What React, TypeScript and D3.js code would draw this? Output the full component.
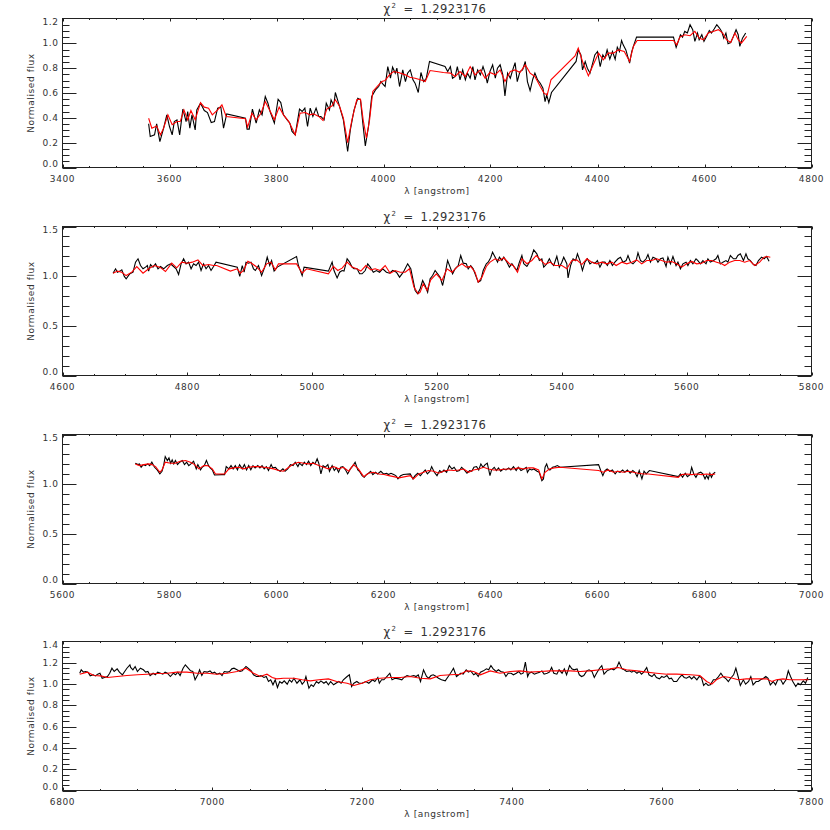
import React, { useEffect, useRef } from 'react';
import * as d3 from 'd3';

type Pt = [number, number];

// ---- chart values
const chiSquared = '1.2923176';
const xLabel = 'λ [angstrom]';
const yLabel = 'Normalised flux';

const xRanges: [number, number][] = [[3400, 4800], [4600, 5800], [5600, 7000], [6800, 7800]];
const yTops = [1.2, 1.5, 1.5, 1.4];
const yMajorSteps = [0.2, 0.5, 0.5, 0.2];
const yMinorSteps = [0.05, 0.1, 0.1, 0.05];
const xMajorStep = 200;
const xMinorStep = 50;

// observed spectrum (black), [wavelength, flux]
const obs1: Pt[] = [
  [3561, 0.352], [3564, 0.250], [3572, 0.263], [3576, 0.352], [3582, 0.209], [3589, 0.317], [3595, 0.424], [3600, 0.330],
  [3605, 0.263], [3609, 0.370], [3614, 0.384], [3619, 0.263], [3625, 0.470], [3631, 0.370], [3634, 0.451], [3638, 0.317],
  [3642, 0.424], [3648, 0.303], [3651, 0.464], [3658, 0.518], [3665, 0.459], [3671, 0.443], [3678, 0.362], [3684, 0.370],
  [3690, 0.478], [3696, 0.486], [3701, 0.317], [3707, 0.432], [3742, 0.397], [3745, 0.309], [3749, 0.309], [3755, 0.470],
  [3762, 0.357], [3768, 0.464], [3773, 0.424], [3779, 0.572], [3784, 0.518], [3788, 0.451], [3796, 0.357], [3803, 0.550],
  [3808, 0.523], [3813, 0.424], [3820, 0.384], [3825, 0.357], [3829, 0.290], [3835, 0.263], [3843, 0.470], [3848, 0.451],
  [3853, 0.478], [3858, 0.330], [3863, 0.478], [3868, 0.411], [3874, 0.478], [3879, 0.411], [3883, 0.411], [3889, 0.384],
  [3893, 0.518], [3899, 0.464], [3902, 0.545], [3907, 0.497], [3910, 0.604], [3916, 0.518], [3925, 0.384], [3933, 0.129],
  [3938, 0.303], [3945, 0.464], [3952, 0.558], [3957, 0.545], [3961, 0.370], [3966, 0.174], [3972, 0.330], [3978, 0.572],
  [3985, 0.625], [3991, 0.652], [3995, 0.692], [3999, 0.671], [4003, 0.652], [4008, 0.813], [4013, 0.719], [4017, 0.808],
  [4022, 0.760], [4025, 0.800], [4030, 0.652], [4036, 0.786], [4041, 0.692], [4045, 0.760], [4050, 0.786], [4055, 0.706],
  [4059, 0.679], [4065, 0.604], [4070, 0.765], [4075, 0.692], [4080, 0.719], [4086, 0.854], [4115, 0.813], [4120, 0.773],
  [4125, 0.813], [4129, 0.719], [4134, 0.733], [4138, 0.813], [4143, 0.706], [4148, 0.786], [4153, 0.706], [4157, 0.760],
  [4162, 0.719], [4167, 0.813], [4171, 0.706], [4176, 0.786], [4181, 0.746], [4186, 0.813], [4190, 0.760], [4194, 0.679],
  [4199, 0.773], [4204, 0.827], [4209, 0.719], [4213, 0.800], [4218, 0.827], [4223, 0.746], [4227, 0.577], [4232, 0.760],
  [4237, 0.719], [4242, 0.792], [4246, 0.845], [4250, 0.692], [4255, 0.773], [4260, 0.786], [4265, 0.854], [4269, 0.692],
  [4274, 0.620], [4279, 0.711], [4283, 0.760], [4288, 0.706], [4293, 0.679], [4298, 0.639], [4302, 0.531], [4305, 0.585],
  [4309, 0.523], [4314, 0.604], [4360, 0.854], [4364, 0.947], [4369, 0.907], [4372, 0.786], [4377, 0.854], [4381, 0.800],
  [4386, 0.760], [4391, 0.840], [4395, 0.907], [4400, 0.934], [4405, 0.813], [4410, 0.907], [4414, 0.880], [4418, 0.947],
  [4423, 0.872], [4428, 0.934], [4433, 0.872], [4437, 0.969], [4441, 0.934], [4445, 1.023], [4448, 0.988], [4453, 0.947],
  [4460, 0.840], [4464, 0.934], [4468, 0.988], [4473, 1.050], [4542, 1.050], [4547, 0.968], [4551, 1.016], [4555, 1.069],
  [4559, 1.050], [4563, 1.096], [4568, 1.083], [4573, 1.150], [4578, 1.110], [4582, 1.016], [4587, 1.083], [4590, 1.029],
  [4595, 1.069], [4599, 1.016], [4604, 1.056], [4609, 1.104], [4613, 1.083], [4618, 1.115], [4623, 1.150], [4628, 1.123],
  [4632, 1.096], [4636, 1.042], [4640, 1.083], [4644, 0.997], [4649, 1.007], [4654, 1.056], [4659, 1.110], [4663, 1.069],
  [4666, 0.975], [4671, 1.042], [4677, 1.083],
];

// model fit (red)
const fit1: Pt[] = [
  [3561, 0.397], [3567, 0.317], [3576, 0.335], [3583, 0.263], [3589, 0.317], [3597, 0.424], [3605, 0.344], [3614, 0.370],
  [3620, 0.370], [3627, 0.464], [3634, 0.384], [3640, 0.459], [3648, 0.384], [3658, 0.523], [3665, 0.486], [3673, 0.478],
  [3680, 0.424], [3690, 0.464], [3698, 0.505], [3706, 0.411], [3742, 0.392], [3746, 0.325], [3754, 0.437], [3762, 0.384],
  [3771, 0.437], [3779, 0.531], [3787, 0.464], [3796, 0.384], [3805, 0.486], [3813, 0.424], [3823, 0.370], [3835, 0.263],
  [3844, 0.437], [3854, 0.443], [3862, 0.424], [3869, 0.432], [3879, 0.411], [3887, 0.378], [3894, 0.470], [3904, 0.497],
  [3910, 0.545], [3918, 0.491], [3925, 0.397], [3933, 0.201], [3941, 0.384], [3950, 0.545], [3957, 0.550], [3962, 0.384],
  [3968, 0.236], [3974, 0.384], [3980, 0.612], [3988, 0.652], [3997, 0.692], [4003, 0.701], [4011, 0.746], [4019, 0.773],
  [4028, 0.765], [4041, 0.746], [4049, 0.727], [4059, 0.719], [4069, 0.706], [4078, 0.692], [4087, 0.781], [4112, 0.765],
  [4125, 0.760], [4134, 0.733], [4143, 0.773], [4153, 0.733], [4162, 0.813], [4171, 0.746], [4181, 0.786], [4190, 0.719],
  [4199, 0.765], [4209, 0.746], [4218, 0.786], [4227, 0.692], [4237, 0.773], [4246, 0.786], [4255, 0.765], [4265, 0.827],
  [4274, 0.760], [4283, 0.733], [4293, 0.652], [4300, 0.599], [4306, 0.585], [4313, 0.706], [4358, 0.899], [4364, 0.961],
  [4372, 0.854], [4383, 0.738], [4392, 0.827], [4402, 0.921], [4411, 0.867], [4420, 0.921], [4430, 0.921], [4439, 0.947],
  [4450, 0.934], [4460, 0.854], [4467, 0.974], [4474, 1.023], [4542, 1.023], [4548, 0.988], [4554, 1.050], [4563, 1.069],
  [4573, 1.061], [4582, 1.096], [4590, 1.042], [4598, 1.029], [4607, 1.083], [4616, 1.096], [4626, 1.110], [4634, 1.083],
  [4641, 1.029], [4649, 1.007], [4657, 1.083], [4663, 1.029], [4669, 1.002], [4679, 1.056],
];

const obs2: Pt[] = [
  [4681, 1.030], [4685, 1.074], [4688, 1.040], [4692, 1.051], [4695, 1.064], [4699, 0.997], [4702, 0.974], [4708, 1.024],
  [4713, 1.040], [4717, 1.141], [4721, 1.175], [4725, 1.107], [4729, 1.074], [4733, 1.091], [4736, 1.107], [4738, 1.051],
  [4741, 1.117], [4745, 1.091], [4749, 1.124], [4753, 1.074], [4757, 1.097], [4762, 1.074], [4768, 1.107], [4773, 1.124],
  [4778, 1.097], [4782, 1.074], [4786, 1.017], [4790, 1.124], [4794, 1.175], [4798, 1.124], [4802, 1.141], [4806, 1.074],
  [4810, 1.124], [4814, 1.107], [4818, 1.141], [4822, 1.057], [4826, 1.124], [4830, 1.074], [4834, 1.107], [4838, 1.057],
  [4842, 1.097], [4846, 1.141], [4880, 1.091], [4884, 0.997], [4888, 1.107], [4891, 1.040], [4894, 1.141], [4898, 1.130],
  [4902, 1.141], [4906, 1.074], [4909, 1.057], [4914, 1.107], [4919, 1.006], [4924, 1.091], [4928, 1.191], [4932, 1.107],
  [4935, 1.157], [4939, 1.051], [4944, 1.091], [4975, 1.198], [4978, 1.107], [4984, 1.006], [4987, 1.091], [5026, 1.051],
  [5032, 1.141], [5035, 1.057], [5040, 0.983], [5044, 1.040], [5048, 1.057], [5051, 1.051], [5056, 1.175], [5060, 1.141],
  [5064, 1.091], [5067, 1.074], [5072, 1.074], [5076, 1.024], [5080, 1.024], [5085, 1.057], [5089, 1.124], [5093, 1.091],
  [5098, 1.040], [5103, 1.057], [5108, 1.040], [5113, 1.074], [5119, 1.040], [5124, 1.030], [5129, 1.057], [5135, 1.040],
  [5140, 0.990], [5146, 1.040], [5153, 1.124], [5158, 1.074], [5165, 0.856], [5169, 0.823], [5173, 0.873], [5177, 0.956],
  [5181, 0.906], [5185, 0.839], [5189, 0.974], [5193, 1.007], [5197, 1.057], [5201, 1.024], [5205, 0.990], [5209, 0.906],
  [5213, 1.024], [5217, 1.158], [5221, 1.091], [5225, 1.024], [5229, 1.074], [5234, 1.107], [5238, 1.208], [5242, 1.131],
  [5247, 1.125], [5250, 1.074], [5254, 1.107], [5258, 1.074], [5263, 0.990], [5266, 0.940], [5270, 0.956], [5274, 1.057],
  [5279, 1.125], [5282, 1.141], [5286, 1.185], [5289, 1.242], [5293, 1.192], [5297, 1.141], [5300, 1.192], [5304, 1.158],
  [5307, 1.192], [5312, 1.141], [5316, 1.091], [5320, 1.125], [5323, 1.098], [5328, 1.057], [5332, 1.141], [5336, 1.208],
  [5339, 1.125], [5344, 1.098], [5348, 1.141], [5352, 1.208], [5355, 1.265], [5360, 1.225], [5364, 1.158], [5368, 1.175],
  [5371, 1.091], [5376, 1.125], [5380, 1.175], [5384, 1.125], [5387, 1.107], [5392, 1.200], [5396, 1.091], [5400, 1.141],
  [5403, 1.191], [5408, 1.125], [5410, 0.983], [5414, 1.107], [5418, 1.175], [5422, 1.157], [5425, 1.225], [5429, 1.157],
  [5433, 1.057], [5437, 1.141], [5441, 1.175], [5445, 1.124], [5449, 1.141], [5453, 1.130], [5457, 1.157], [5461, 1.091],
  [5465, 1.141], [5469, 1.141], [5473, 1.107], [5477, 1.157], [5481, 1.107], [5485, 1.141], [5490, 1.175], [5494, 1.191],
  [5498, 1.141], [5503, 1.157], [5506, 1.208], [5510, 1.141], [5514, 1.124], [5519, 1.157], [5522, 1.235], [5526, 1.157],
  [5530, 1.141], [5535, 1.175], [5538, 1.218], [5542, 1.141], [5546, 1.191], [5551, 1.175], [5554, 1.141], [5558, 1.175],
  [5562, 1.184], [5567, 1.098], [5570, 1.191], [5574, 1.124], [5578, 1.198], [5583, 1.107], [5586, 1.141], [5590, 1.074],
  [5594, 1.124], [5599, 1.141], [5602, 1.107], [5606, 1.157], [5610, 1.124], [5615, 1.175], [5618, 1.157], [5622, 1.124],
  [5626, 1.157], [5631, 1.124], [5634, 1.175], [5638, 1.141], [5643, 1.157], [5647, 1.175], [5650, 1.208], [5654, 1.124],
  [5658, 1.141], [5663, 1.157], [5666, 1.141], [5670, 1.208], [5675, 1.175], [5679, 1.175], [5682, 1.208], [5686, 1.225],
  [5691, 1.157], [5695, 1.225], [5698, 1.175], [5702, 1.157], [5707, 1.117], [5711, 1.107], [5715, 1.157], [5720, 1.191],
  [5724, 1.175], [5728, 1.198], [5732, 1.151],
];

const fit2: Pt[] = [
  [4681, 1.030], [4688, 1.051], [4695, 1.040], [4702, 1.006], [4711, 1.040], [4719, 1.097], [4729, 1.030], [4738, 1.074],
  [4747, 1.107], [4756, 1.091], [4765, 1.047], [4775, 1.131], [4783, 1.084], [4791, 1.141], [4800, 1.130], [4808, 1.141],
  [4817, 1.164], [4825, 1.107], [4834, 1.117], [4842, 1.107], [4847, 1.107], [4869, 1.051], [4880, 1.074], [4885, 1.030],
  [4890, 1.057], [4897, 1.151], [4903, 1.130], [4910, 1.098], [4919, 1.040], [4927, 1.124], [4934, 1.141], [4941, 1.064],
  [4946, 1.124], [4975, 1.124], [4984, 1.030], [4991, 1.074], [5026, 1.024], [5034, 1.098], [5041, 1.057], [5048, 1.081],
  [5056, 1.141], [5064, 1.091], [5071, 1.074], [5078, 1.051], [5086, 1.107], [5094, 1.064], [5101, 1.074], [5109, 1.057],
  [5117, 1.107], [5125, 1.030], [5133, 1.057], [5141, 1.040], [5149, 1.040], [5156, 1.074], [5163, 0.890], [5170, 0.823],
  [5173, 0.839], [5178, 0.923], [5184, 0.856], [5190, 0.963], [5199, 1.024], [5208, 0.956], [5216, 1.074], [5224, 1.040],
  [5232, 1.091], [5240, 1.125], [5247, 1.091], [5254, 1.098], [5261, 1.040], [5266, 0.940], [5272, 0.990], [5279, 1.098],
  [5285, 1.141], [5293, 1.175], [5300, 1.158], [5307, 1.185], [5316, 1.125], [5322, 1.107], [5329, 1.040], [5336, 1.175],
  [5344, 1.125], [5352, 1.158], [5359, 1.208], [5366, 1.165], [5373, 1.118], [5381, 1.141], [5389, 1.107], [5400, 1.107],
  [5408, 1.074], [5416, 1.157], [5424, 1.164], [5432, 1.117], [5440, 1.175], [5448, 1.141], [5456, 1.124], [5464, 1.141],
  [5472, 1.124], [5480, 1.141], [5487, 1.107], [5496, 1.141], [5504, 1.124], [5512, 1.141], [5520, 1.164], [5528, 1.124],
  [5536, 1.157], [5544, 1.157], [5552, 1.175], [5560, 1.157], [5568, 1.141], [5576, 1.148], [5584, 1.124], [5592, 1.091],
  [5600, 1.124], [5608, 1.148], [5616, 1.124], [5624, 1.130], [5632, 1.157], [5640, 1.157], [5648, 1.141], [5656, 1.124],
  [5661, 1.107], [5669, 1.141], [5677, 1.157], [5685, 1.157], [5693, 1.141], [5701, 1.157], [5709, 1.107], [5717, 1.141],
  [5724, 1.191], [5729, 1.198], [5734, 1.191],
];

const obs3: Pt[] = [
  [5736, 1.211], [5741, 1.197], [5744, 1.204], [5747, 1.170], [5751, 1.197], [5755, 1.187], [5759, 1.204], [5763, 1.187],
  [5767, 1.221], [5772, 1.170], [5777, 1.144], [5782, 1.103], [5786, 1.130], [5789, 1.187], [5792, 1.278], [5796, 1.238],
  [5799, 1.265], [5802, 1.211], [5805, 1.244], [5808, 1.204], [5811, 1.238], [5815, 1.197], [5819, 1.221], [5824, 1.238],
  [5828, 1.197], [5832, 1.221], [5836, 1.187], [5840, 1.204], [5845, 1.231], [5850, 1.154], [5853, 1.197], [5858, 1.144],
  [5861, 1.170], [5865, 1.187], [5869, 1.238], [5873, 1.187], [5876, 1.164], [5880, 1.144], [5884, 1.093], [5898, 1.096],
  [5903, 1.096], [5906, 1.177], [5911, 1.154], [5915, 1.187], [5919, 1.154], [5923, 1.187], [5927, 1.144], [5931, 1.197],
  [5936, 1.154], [5940, 1.197], [5944, 1.144], [5948, 1.187], [5952, 1.144], [5956, 1.187], [5960, 1.164], [5965, 1.187],
  [5969, 1.164], [5973, 1.187], [5977, 1.154], [5981, 1.177], [5985, 1.137], [5990, 1.197], [5993, 1.164], [5998, 1.170],
  [6002, 1.144], [6007, 1.130], [6012, 1.154], [6016, 1.130], [6021, 1.154], [6026, 1.197], [6031, 1.187], [6035, 1.221],
  [6040, 1.177], [6043, 1.211], [6048, 1.187], [6052, 1.221], [6056, 1.197], [6060, 1.231], [6064, 1.187], [6068, 1.221],
  [6072, 1.204], [6076, 1.255], [6079, 1.211], [6083, 1.103], [6087, 1.187], [6091, 1.170], [6096, 1.197], [6099, 1.130],
  [6104, 1.187], [6108, 1.137], [6112, 1.164], [6116, 1.120], [6120, 1.170], [6124, 1.177], [6129, 1.144], [6133, 1.103],
  [6138, 1.154], [6143, 1.187], [6147, 1.221], [6152, 1.144], [6155, 1.130], [6160, 1.086], [6164, 1.069], [6168, 1.096],
  [6172, 1.110], [6176, 1.130], [6180, 1.096], [6185, 1.120], [6189, 1.103], [6195, 1.130], [6200, 1.103], [6206, 1.110],
  [6209, 1.097], [6214, 1.110], [6219, 1.097], [6223, 1.086], [6227, 1.053], [6232, 1.086], [6237, 1.097], [6250, 1.103],
  [6255, 1.053], [6259, 1.086], [6264, 1.110], [6269, 1.086], [6274, 1.120], [6278, 1.143], [6282, 1.103], [6287, 1.130],
  [6290, 1.177], [6295, 1.120], [6300, 1.086], [6305, 1.137], [6309, 1.120], [6313, 1.143], [6318, 1.120], [6323, 1.187],
  [6328, 1.153], [6332, 1.170], [6337, 1.130], [6342, 1.137], [6346, 1.170], [6351, 1.143], [6356, 1.110], [6361, 1.137],
  [6365, 1.130], [6369, 1.170], [6374, 1.177], [6378, 1.143], [6382, 1.204], [6386, 1.170], [6390, 1.197], [6394, 1.211],
  [6399, 1.086], [6402, 1.143], [6407, 1.170], [6411, 1.137], [6415, 1.164], [6419, 1.130], [6424, 1.153], [6429, 1.143],
  [6434, 1.164], [6438, 1.143], [6443, 1.177], [6448, 1.137], [6452, 1.170], [6457, 1.137], [6462, 1.153], [6467, 1.170],
  [6469, 1.120], [6473, 1.153], [6477, 1.143], [6481, 1.153], [6487, 1.130], [6491, 1.120], [6496, 1.036], [6499, 1.053],
  [6502, 1.170], [6505, 1.204], [6508, 1.153], [6511, 1.143], [6516, 1.170], [6521, 1.177], [6525, 1.187], [6530, 1.170],
  [6602, 1.197], [6606, 1.137], [6610, 1.086], [6614, 1.137], [6618, 1.153], [6623, 1.130], [6628, 1.143], [6633, 1.103],
  [6637, 1.130], [6642, 1.120], [6647, 1.143], [6651, 1.120], [6656, 1.143], [6661, 1.110], [6666, 1.137], [6670, 1.120],
  [6674, 1.076], [6678, 1.137], [6683, 1.053], [6687, 1.130], [6691, 1.103], [6697, 1.137], [6751, 1.076], [6755, 1.103],
  [6759, 1.069], [6764, 1.110], [6768, 1.076], [6773, 1.096], [6776, 1.170], [6780, 1.103], [6784, 1.069], [6788, 1.110],
  [6793, 1.120], [6797, 1.103], [6801, 1.053], [6804, 1.086], [6807, 1.053], [6810, 1.110], [6813, 1.069], [6816, 1.103],
  [6820, 1.120],
];

const fit3: Pt[] = [
  [5736, 1.204], [5744, 1.187], [5752, 1.197], [5761, 1.204], [5767, 1.197], [5774, 1.177], [5782, 1.120], [5786, 1.144],
  [5792, 1.221], [5802, 1.211], [5811, 1.211], [5820, 1.231], [5830, 1.238], [5839, 1.221], [5847, 1.197], [5855, 1.154],
  [5864, 1.187], [5871, 1.187], [5880, 1.154], [5886, 1.103], [5903, 1.103], [5911, 1.154], [5920, 1.164], [5929, 1.170],
  [5939, 1.154], [5948, 1.170], [5957, 1.177], [5967, 1.177], [5976, 1.170], [5985, 1.164], [5995, 1.154], [6004, 1.137],
  [6013, 1.130], [6023, 1.170], [6032, 1.204], [6041, 1.221], [6051, 1.211], [6060, 1.204], [6069, 1.211], [6079, 1.187],
  [6088, 1.170], [6097, 1.154], [6107, 1.177], [6116, 1.154], [6125, 1.170], [6135, 1.130], [6144, 1.197], [6153, 1.154],
  [6163, 1.076], [6172, 1.110], [6181, 1.120], [6191, 1.103], [6201, 1.097], [6210, 1.086], [6219, 1.076], [6229, 1.063],
  [6250, 1.086], [6256, 1.053], [6266, 1.103], [6275, 1.120], [6284, 1.137], [6294, 1.130], [6303, 1.110], [6312, 1.130],
  [6322, 1.143], [6331, 1.137], [6340, 1.143], [6350, 1.153], [6359, 1.120], [6368, 1.143], [6378, 1.153], [6387, 1.170],
  [6396, 1.153], [6406, 1.143], [6415, 1.143], [6424, 1.150], [6434, 1.153], [6443, 1.153], [6452, 1.164], [6462, 1.153],
  [6471, 1.164], [6480, 1.164], [6490, 1.143], [6496, 1.053], [6502, 1.120], [6510, 1.153], [6519, 1.164], [6530, 1.170],
  [6602, 1.137], [6611, 1.120], [6620, 1.143], [6630, 1.120], [6639, 1.130], [6648, 1.120], [6658, 1.130], [6667, 1.120],
  [6676, 1.110], [6686, 1.103], [6695, 1.103], [6751, 1.069], [6757, 1.096], [6767, 1.103], [6776, 1.096], [6785, 1.103],
  [6795, 1.096], [6804, 1.103], [6813, 1.096], [6820, 1.103],
];

const obs4: Pt[] = [
  [6823, 1.102], [6825, 1.134], [6828, 1.112], [6831, 1.118], [6834, 1.112], [6837, 1.077], [6841, 1.087], [6844, 1.077],
  [6847, 1.093], [6850, 1.102], [6853, 1.055], [6856, 1.062], [6860, 1.071], [6863, 1.102], [6866, 1.149], [6869, 1.118],
  [6873, 1.143], [6876, 1.112], [6880, 1.087], [6883, 1.118], [6886, 1.149], [6890, 1.181], [6891, 1.156], [6894, 1.134],
  [6897, 1.165], [6900, 1.118], [6904, 1.149], [6908, 1.134], [6911, 1.112], [6914, 1.118], [6917, 1.080], [6921, 1.102],
  [6924, 1.087], [6927, 1.112], [6931, 1.102], [6934, 1.093], [6937, 1.112], [6940, 1.102], [6944, 1.071], [6948, 1.102],
  [6951, 1.087], [6954, 1.112], [6957, 1.080], [6961, 1.149], [6964, 1.181], [6967, 1.156], [6971, 1.124], [6974, 1.118],
  [6977, 1.040], [6981, 1.093], [6983, 1.134], [6986, 1.080], [6989, 1.118], [6993, 1.112], [6997, 1.124], [7000, 1.102],
  [7003, 1.112], [7006, 1.093], [7010, 1.102], [7013, 1.080], [7016, 1.118], [7020, 1.112], [7023, 1.118], [7026, 1.143],
  [7029, 1.149], [7033, 1.134], [7037, 1.118], [7040, 1.124], [7043, 1.149], [7045, 1.165], [7049, 1.143], [7052, 1.124],
  [7055, 1.087], [7059, 1.071], [7062, 1.071], [7065, 1.080], [7069, 1.062], [7072, 1.071], [7075, 1.024], [7078, 1.040],
  [7081, 0.993], [7084, 1.040], [7087, 0.968], [7090, 1.024], [7093, 1.008], [7096, 1.030], [7100, 0.999], [7103, 1.040],
  [7106, 1.018], [7109, 1.055], [7113, 1.008], [7117, 1.040], [7120, 0.999], [7123, 1.024], [7125, 1.071], [7129, 0.961],
  [7132, 0.993], [7135, 0.977], [7139, 1.024], [7142, 1.008], [7145, 1.030], [7149, 1.008], [7152, 1.024], [7155, 0.993],
  [7158, 1.024], [7162, 0.993], [7165, 1.008], [7169, 1.024], [7172, 1.008], [7175, 1.040], [7180, 1.071], [7183, 1.087],
  [7186, 0.977], [7189, 1.008], [7193, 1.024], [7196, 1.008], [7200, 1.008], [7205, 1.024], [7209, 1.008], [7214, 1.040],
  [7217, 1.024], [7221, 1.062], [7223, 1.008], [7226, 1.040], [7229, 1.040], [7233, 1.071], [7237, 1.102], [7240, 1.040],
  [7244, 1.055], [7249, 1.049], [7253, 1.040], [7256, 1.062], [7260, 1.080], [7264, 1.071], [7269, 1.080], [7272, 1.071],
  [7275, 1.087], [7278, 1.024], [7282, 1.134], [7286, 1.071], [7289, 1.055], [7292, 1.080], [7295, 1.087], [7299, 1.071],
  [7302, 1.055], [7306, 1.040], [7311, 1.030], [7315, 1.071], [7318, 1.102], [7322, 1.149], [7326, 1.071], [7329, 1.087],
  [7332, 1.102], [7335, 1.093], [7339, 1.134], [7342, 1.112], [7345, 1.124], [7349, 1.087], [7352, 1.102], [7355, 1.071],
  [7358, 1.112], [7362, 1.124], [7366, 1.143], [7369, 1.134], [7372, 1.174], [7375, 1.143], [7379, 1.118], [7382, 1.134],
  [7385, 1.118], [7389, 1.112], [7392, 1.071], [7395, 1.102], [7399, 1.102], [7402, 1.087], [7406, 1.102], [7409, 1.118],
  [7412, 1.093], [7415, 1.102], [7418, 1.206], [7421, 1.071], [7423, 1.102], [7426, 1.112], [7430, 1.093], [7433, 1.102],
  [7437, 1.112], [7440, 1.124], [7443, 1.093], [7447, 1.102], [7450, 1.112], [7453, 1.156], [7456, 1.102], [7460, 1.093],
  [7463, 1.134], [7467, 1.102], [7470, 1.143], [7473, 1.087], [7477, 1.174], [7480, 1.143], [7483, 1.134], [7487, 1.143],
  [7490, 1.087], [7493, 1.071], [7496, 1.080], [7500, 1.124], [7503, 1.134], [7507, 1.118], [7510, 1.062], [7513, 1.102],
  [7517, 1.149], [7520, 1.174], [7523, 1.093], [7527, 1.124], [7530, 1.134], [7533, 1.143], [7536, 1.134], [7540, 1.156],
  [7543, 1.206], [7547, 1.143], [7550, 1.134], [7553, 1.118], [7557, 1.124], [7560, 1.112], [7563, 1.124], [7567, 1.102],
  [7570, 1.118], [7573, 1.093], [7576, 1.112], [7580, 1.156], [7583, 1.087], [7587, 1.071], [7590, 1.093], [7593, 1.062],
  [7597, 1.049], [7600, 1.071], [7603, 1.062], [7607, 1.080], [7610, 1.049], [7613, 1.055], [7616, 1.024], [7620, 1.024],
  [7623, 1.055], [7627, 1.087], [7630, 1.062], [7633, 1.055], [7637, 1.071], [7640, 1.049], [7643, 1.071], [7647, 1.040],
  [7650, 1.071], [7653, 1.062], [7656, 0.987], [7659, 1.008], [7662, 0.987], [7665, 0.993], [7669, 1.040], [7672, 1.040],
  [7675, 1.062], [7679, 1.102], [7682, 1.071], [7686, 1.049], [7689, 1.024], [7692, 1.055], [7696, 1.087], [7699, 1.149],
  [7702, 1.071], [7705, 0.987], [7709, 1.040], [7712, 0.999], [7716, 1.024], [7719, 1.071], [7722, 0.993], [7726, 1.024],
  [7729, 1.024], [7732, 1.040], [7736, 1.055], [7739, 1.071], [7742, 1.055], [7745, 0.993], [7749, 1.024], [7752, 0.993],
  [7755, 1.040], [7759, 1.040], [7762, 0.999], [7766, 1.040], [7769, 1.124], [7772, 1.071], [7775, 1.024], [7779, 0.977],
  [7782, 1.008], [7785, 0.993], [7789, 1.030], [7792, 1.008], [7795, 1.062],
];

const fit4: Pt[] = [
  [6823, 1.093], [6833, 1.112], [6842, 1.080], [6851, 1.077], [6860, 1.062], [6873, 1.071], [6886, 1.080], [6900, 1.087],
  [6913, 1.093], [6926, 1.099], [6940, 1.102], [6953, 1.112], [6966, 1.112], [6980, 1.102], [6993, 1.102], [7006, 1.093],
  [7020, 1.102], [7033, 1.118], [7045, 1.149], [7055, 1.102], [7064, 1.071], [7073, 1.093], [7080, 1.062], [7086, 1.049],
  [7095, 1.055], [7109, 1.055], [7120, 1.040], [7131, 1.030], [7142, 1.040], [7155, 1.049], [7166, 1.024], [7180, 1.008],
  [7189, 0.987], [7200, 1.008], [7211, 1.040], [7224, 1.055], [7238, 1.062], [7251, 1.062], [7264, 1.071], [7278, 1.055],
  [7291, 1.049], [7304, 1.080], [7318, 1.087], [7331, 1.093], [7340, 1.124], [7349, 1.118], [7358, 1.087], [7371, 1.124],
  [7384, 1.102], [7398, 1.118], [7411, 1.124], [7424, 1.112], [7438, 1.118], [7451, 1.124], [7464, 1.124], [7478, 1.124],
  [7491, 1.118], [7504, 1.124], [7518, 1.134], [7531, 1.143], [7542, 1.156], [7553, 1.134], [7567, 1.124], [7580, 1.112],
  [7593, 1.102], [7607, 1.093], [7620, 1.093], [7638, 1.087], [7651, 1.080], [7660, 1.024], [7667, 0.999], [7673, 1.040],
  [7682, 1.071], [7691, 1.062], [7702, 1.040], [7713, 1.049], [7727, 1.049], [7740, 1.049], [7747, 1.024], [7753, 1.040],
  [7762, 1.049], [7771, 1.040], [7780, 1.040], [7789, 1.040], [7796, 1.040],
];

const observed = [obs1, obs2, obs3, obs4];
const fitted = [fit1, fit2, fit3, fit4];

// ---- layout
const W = 830;
const H = 830;
const plotLeft = 62.5;
const plotRight = 811.5;
const plotHeight = 149;
const panelTops = [18.5, 226.5, 434.5, 641.5];
const font = '"DejaVu Sans", sans-serif';
const ink = '#222';
const textInk = '#333';

export default function App() {
  const svgRef = useRef<SVGSVGElement>(null);

  useEffect(() => {
    const svg = d3.select(svgRef.current);
    svg.selectAll('*').remove();

    svg.append('rect').attr('width', W).attr('height', H).attr('fill', '#fff');

    panelTops.forEach((top, i) => {
      const bottom = top + plotHeight;
      const [x0, x1] = xRanges[i];
      const x = d3.scaleLinear().domain([x0, x1]).range([plotLeft, plotRight]);
      const y = d3.scaleLinear().domain([0, yTops[i]]).range([bottom, top]);
      const g = svg.append('g');

      // ---- x ticks (inward, top and bottom)
      d3.range(x0, x1 + 1, xMinorStep).forEach(v => {
        const major = (v - x0) % xMajorStep === 0;
        const len = major ? 3 : 1.5;
        const px = Math.round(x(v)) + 0.5;
        g.append('line').attr('x1', px).attr('x2', px).attr('y1', bottom).attr('y2', bottom - len)
          .attr('stroke', ink).attr('stroke-width', 1);
        g.append('line').attr('x1', px).attr('x2', px).attr('y1', top).attr('y2', top + len)
          .attr('stroke', ink).attr('stroke-width', 1);
        if (major) {
          g.append('text')
            .attr('x', x(v))
            .attr('y', bottom + 14)
            .attr('text-anchor', 'middle')
            .style('font-family', font)
            .style('font-size', '9px')
            .style('letter-spacing', '0.6px')
            .attr('fill', textInk)
            .text(String(v));
        }
      });

      // ---- y ticks (inward, left and right)
      const nMinor = Math.round(yTops[i] / yMinorSteps[i]);
      const perMajor = Math.round(yMajorSteps[i] / yMinorSteps[i]);
      for (let k = 0; k <= nMinor; k++) {
        const v = k * yMinorSteps[i];
        const major = k % perMajor === 0;
        const len = major ? 14 : 7;
        const py = Math.round(y(v)) + 0.5;
        g.append('line').attr('x1', plotLeft).attr('x2', plotLeft + len).attr('y1', py).attr('y2', py)
          .attr('stroke', ink).attr('stroke-width', 1);
        g.append('line').attr('x1', plotRight).attr('x2', plotRight - len).attr('y1', py).attr('y2', py)
          .attr('stroke', ink).attr('stroke-width', 1);
        if (major) {
          // end labels are nudged inside the frame
          let dy = 3;
          if (k === 0) dy = -0.5;
          if (k === nMinor) dy = 6.5;
          g.append('text')
            .attr('x', 58.5)
            .attr('y', y(v) + dy)
            .attr('text-anchor', 'end')
            .style('font-family', font)
            .style('font-size', '9px')
            .style('letter-spacing', '0.6px')
            .attr('fill', textInk)
            .text(v.toFixed(1));
        }
      }

      // ---- frame
      g.append('rect')
        .attr('x', plotLeft)
        .attr('y', top)
        .attr('width', plotRight - plotLeft)
        .attr('height', plotHeight)
        .attr('fill', 'none')
        .attr('stroke', ink)
        .attr('stroke-width', 1);

      // ---- spectra: observed, then the fit over it
      const line = d3.line<Pt>().x(d => x(d[0])).y(d => y(d[1]));
      g.append('path').datum(observed[i]).attr('d', line)
        .attr('fill', 'none').attr('stroke', '#000').attr('stroke-width', 1.1);
      g.append('path').datum(fitted[i]).attr('d', line)
        .attr('fill', 'none').attr('stroke', '#ff0000').attr('stroke-width', 1.1);

      // ---- title: χ² = value, spaced like the original
      const cx = (plotLeft + plotRight) / 2;
      const title = g.append('text')
        .attr('x', cx - 53.5)
        .attr('y', top - 6)
        .attr('text-anchor', 'start')
        .style('font-family', font)
        .style('font-size', '11.5px')
        .style('letter-spacing', '0.4px')
        .attr('fill', textInk);
      title.append('tspan').text('χ');
      title.append('tspan').attr('dx', 1).attr('dy', -5).style('font-size', '7px').text('2');
      title.append('tspan').attr('dx', 7).attr('dy', 5).text('=');
      title.append('tspan').attr('dx', 7).text(chiSquared);

      // ---- axis titles
      g.append('text')
        .attr('x', cx)
        .attr('y', bottom + 26.5)
        .attr('text-anchor', 'middle')
        .style('font-family', font)
        .style('font-size', '9px')
        .style('letter-spacing', '0.6px')
        .attr('fill', textInk)
        .text(xLabel);

      g.append('text')
        .attr('transform', `translate(33.5,${(top + bottom) / 2}) rotate(-90)`)
        .attr('text-anchor', 'middle')
        .style('font-family', font)
        .style('font-size', '9px')
        .style('letter-spacing', '0.6px')
        .attr('fill', textInk)
        .text(yLabel);
    });
  }, []);

  return (
    <svg
      ref={svgRef}
      width={W}
      height={H}
      style={{ position: 'absolute', left: 0, top: 0, display: 'block' }}
    />
  );
}
